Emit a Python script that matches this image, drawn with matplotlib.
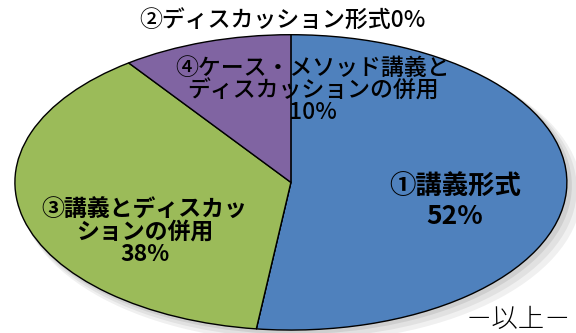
import matplotlib.pyplot as plt
from matplotlib.patches import Ellipse

# data for the pie (clockwise from top)
labels = ['①講義形式', '②ディスカッション形式', '③講義とディスカッ\nションの併用', '④ケース・メソッド講義と\nディスカッションの併用']
values = [52, 0, 38, 10]
colors = ['#4F81BD', '#F79646', '#9BBB59', '#8064A2']

plt.rcParams['font.family'] = ['Noto Sans CJK JP', 'DejaVu Sans']

fig = plt.figure(figsize=(5.76, 3.33), dpi=100)
ax = fig.add_axes([0, 0, 1, 1])

# soft shadow behind the pie
for i, a in enumerate([0.06, 0.06, 0.08]):
    d = 0.012 * (3 - i)
    ax.add_patch(Ellipse((d, -d * 1.8), 2.0 + d, 2.0 + d, color='black', alpha=a, lw=0, zorder=0))

wedges, _ = ax.pie(values, colors=colors, startangle=90, counterclock=False,
                   wedgeprops=dict(edgecolor='black', linewidth=1))
ax.set_aspect('auto')
ax.set_xlim(-1.054, 1.033)
ax.set_ylim(-1.02, 1.235)
ax.axis('off')

# labels
ax.text(0.594, -0.13, labels[0] + '\n' + str(values[0]) + '%', ha='center', va='center',
        fontsize=19, fontweight='bold', linespacing=1.1)
ax.text(-0.03, 1.09, labels[1] + str(values[1]) + '%', ha='center', va='center',
        fontsize=16.5, fontweight='medium')
ax.text(-0.53, -0.34, labels[2] + '\n' + str(values[2]) + '%', ha='center', va='center',
        fontsize=16.5, fontweight='bold', linespacing=0.95)
ax.text(0.08, 0.62, labels[3] + '\n' + str(values[3]) + '%', ha='center', va='center',
        fontsize=16.5, fontweight='medium', linespacing=0.95)

fig.text(0.9, 0.042, '－以上－', ha='center', va='center', fontsize=19, fontweight='light')

fig.savefig('out.png', dpi=100)
